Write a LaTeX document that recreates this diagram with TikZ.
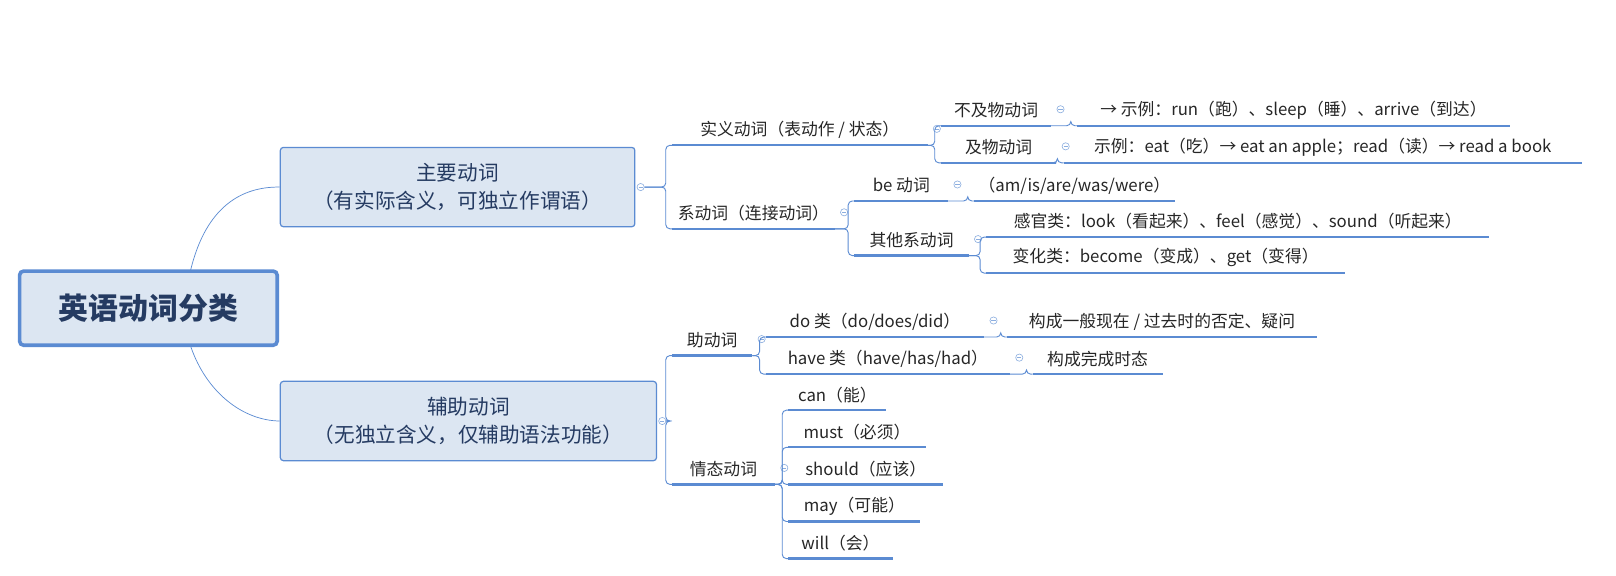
\documentclass[tikz,border=0pt]{standalone}
\usepackage{fontspec}
\setmainfont{Noto Sans CJK SC}
\usetikzlibrary{calc}
\definecolor{ln}{HTML}{5B8BD2}
\definecolor{bx}{HTML}{DCE6F2}
\definecolor{rt}{HTML}{2E4A7A}
\tikzset{
 ul/.style={draw=ln,line width=2.2pt},
 con/.style={draw=ln,line width=0.9pt},
 lbl/.style={font=\fontsize{16.3}{18}\selectfont,text=black!85,inner sep=0pt},
 tog/.style={circle,draw=ln!70,line width=0.6pt,minimum size=7pt,inner sep=0pt,
   path picture={\draw[ln!70,line width=0.6pt] ([xshift=-2pt]path picture bounding box.center)--([xshift=2pt]path picture bounding box.center);}},
 box/.style={draw=ln,line width=1.2pt,fill=bx,rounded corners=3pt,align=center,
   font=\fontsize{20}{27}\selectfont,text=rt!80!black,inner sep=0pt}
}
\newcommand\br[5]{%
 \coordinate (#1-s) at (#2,#4); \coordinate (#1-e) at (#3,#4);
 \draw[ul] (#1-s)--(#1-e);
 \node[lbl] (#1) at ({(#2+#3)/2},#4-15) {#5};}
\newcommand\tg[1]{\node[tog] (#1-c) at ([xshift=9pt,yshift=16pt]#1-e) {};}
\newcommand\cn[2]{\draw[con,rounded corners=4pt] (#1) -| ([xshift=-6pt]#2-s) -- (#2-s);}
\begin{document}
\begin{tikzpicture}[x=1pt,y=-1pt]
\useasboundingbox (0,0) rectangle (1568,558);
\node[box,draw=ln,line width=3.5pt,rounded corners=4pt,minimum width=250pt,minimum height=72pt,
  font=\fontsize{29}{32}\selectfont\bfseries] (root) at (144,299) {英语动词分类};
\node[box,minimum width=344pt,minimum height=77pt] (b1) at (444,181.5) {主要动词\\（有实际含义，可独立作谓语）};
\node[box,minimum width=365pt,minimum height=77pt] (b2) at (454.5,408.5) {辅助动词\\（无独立含义，仅辅助语法功能）};
\coordinate (r1) at (185,262); \coordinate (r2) at (185,336);
\draw[con,line width=0.7pt] (r1) .. controls (200,200) and (235,181) .. (b1.west);
\draw[con,line width=0.7pt] (r2) .. controls (200,380) and (235,408) .. (b2.west);
\node[tog] (b1-c) at ([xshift=5pt]b1.east) {};
\node[tog] (b2-c) at ([xshift=5pt]b2.east) {};
% main verbs
\br{sy}{652}{900}{141}{实义动词（表动作 / 状态）}
\br{xi}{652}{810}{222}{系动词（连接动词）}
\cn{b1-c.east}{sy}\cn{b1-c.east}{xi}
\tg{sy}
\br{bj}{913}{1020}{122}{不及物动词}
\br{jw}{913}{1025}{158}{及物动词}
\cn{sy-e}{bj}\cn{sy-e}{jw}
\tg{bj}\tg{jw}
\br{bjl}{1045}{1465}{122}{→ 示例：run（跑）、sleep（睡）、arrive（到达）}
\br{jwl}{1032}{1535}{158}{示例：eat（吃）→ eat an apple；read（读）→ read a book}
\cn{bj-e}{bjl}\cn{jw-e}{jwl}
\tg{xi}
\br{be}{829}{920}{195}{be 动词}
\br{qt}{829}{940}{248}{其他系动词}
\cn{xi-e}{be}\cn{xi-e}{qt}
\tg{be}\tg{qt}
\br{bel}{945}{1140}{195}{（am/is/are/was/were）}
\cn{be-e}{bel}
\br{gg}{957}{1445}{230}{感官类：look（看起来）、feel（感觉）、sound（听起来）}
\br{bh}{957}{1305}{265}{变化类：become（变成）、get（变得）}
\cn{qt-e}{gg}\cn{qt-e}{bh}
% auxiliary
\br{zd}{652}{730}{345}{助动词}
\br{qd}{652}{752}{470}{情态动词}
\cn{b2-c.east}{zd}\cn{b2-c.east}{qd}
\tg{zd}\tg{qd}
\br{do}{743}{955}{327}{do 类（do/does/did）}
\br{hv}{743}{980}{363}{have 类（have/has/had）}
\cn{zd-e}{do}\cn{zd-e}{hv}
\tg{do}\tg{hv}
\br{dol}{977}{1278}{327}{构成一般现在 / 过去时的否定、疑问}
\br{hvl}{1002}{1128}{363}{构成完成时态}
\cn{do-e}{dol}\cn{hv-e}{hvl}
\br{m1}{765}{860}{398}{can（能）}
\br{m2}{765}{898}{434}{must（必须）}
\br{m3}{765}{915}{470}{should（应该）}
\br{m4}{765}{893}{506}{may（可能）}
\br{m5}{765}{866}{542}{will（会）}
\foreach \m in {m1,m2,m3,m4,m5}{\cn{qd-e}{\m}}
\end{tikzpicture}
\end{document}
